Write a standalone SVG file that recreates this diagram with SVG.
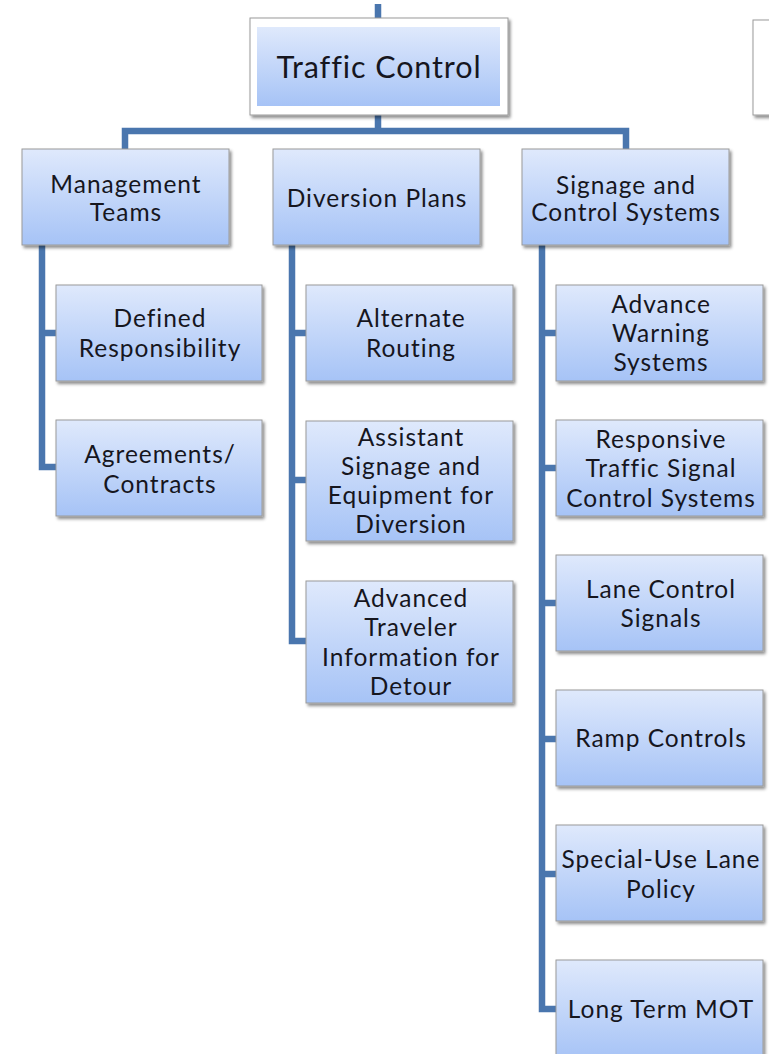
<svg xmlns="http://www.w3.org/2000/svg" width="769" height="1054" viewBox="0 0 769 1054">
<defs>
<linearGradient id="g" x1="0" y1="0" x2="0" y2="1">
<stop offset="0" stop-color="#dfe9fc"/>
<stop offset="1" stop-color="#a6c3f6"/>
</linearGradient>
<filter id="sh" x="-10%" y="-10%" width="125%" height="130%">
<feDropShadow dx="2" dy="2.5" stdDeviation="1.5" flood-color="#000" flood-opacity="0.45"/>
</filter>
<style>
.box{fill:url(#g);stroke:#9a9a9a;stroke-width:1;filter:url(#sh)}
.wbox{fill:#fff;stroke:#9a9a9a;stroke-width:1;filter:url(#sh)}
.t{font-family:Lato,"Liberation Sans",sans-serif;font-size:24.5px;letter-spacing:1px;fill:#16161e;text-anchor:middle;dominant-baseline:central}
.big{font-size:30.5px;letter-spacing:0.9px}
.c{fill:none;stroke:#4a76ae;stroke-width:6.5}
</style>
</defs>
<g id="connectors">
<path class="c" d="M378 4V131M125 150V131H626V150"/>
<path class="c" d="M42 245V467H56M42 333H56"/>
<path class="c" d="M292 245V641H306M292 333H306M292 480H306"/>
<path class="c" d="M542 245V1009H556M542 333H556M542 468H556M542 603H556M542 739H556M542 874H556"/>
</g>
<g id="traffic-control">
<rect class="wbox" x="250" y="18" width="258" height="97"/>
<rect x="257" y="27" width="243" height="79" fill="url(#g)"/>
<text class="t big" x="379" y="66">Traffic Control</text>
</g>
<g id="right-partial">
<rect class="wbox" x="753" y="20" width="30" height="95"/>
</g>
<g id="management-teams">
<rect class="box" x="22" y="149" width="207" height="96"/>
<text class="t" x="126" y="183">Management</text>
<text class="t" x="126" y="211">Teams</text>
</g>
<g id="defined-responsibility">
<rect class="box" x="56" y="285" width="206" height="96"/>
<text class="t" x="160" y="317">Defined</text>
<text class="t" x="160" y="347">Responsibility</text>
</g>
<g id="agreements-contracts">
<rect class="box" x="56" y="420" width="206" height="96"/>
<text class="t" x="160" y="453">Agreements/</text>
<text class="t" x="160" y="483">Contracts</text>
</g>
<g id="diversion-plans">
<rect class="box" x="273" y="149" width="207" height="96"/>
<text class="t" x="377" y="197">Diversion Plans</text>
</g>
<g id="alternate-routing">
<rect class="box" x="306" y="285" width="207" height="96"/>
<text class="t" x="411" y="317">Alternate</text>
<text class="t" x="411" y="347">Routing</text>
</g>
<g id="assistant-signage">
<rect class="box" x="306" y="421" width="207" height="120"/>
<text class="t" x="411" y="436">Assistant</text>
<text class="t" x="411" y="465">Signage and</text>
<text class="t" x="411" y="494">Equipment for</text>
<text class="t" x="411" y="523">Diversion</text>
</g>
<g id="advanced-traveler">
<rect class="box" x="306" y="581" width="207" height="122"/>
<text class="t" x="411" y="597">Advanced</text>
<text class="t" x="411" y="626">Traveler</text>
<text class="t" x="411" y="656">Information for</text>
<text class="t" x="411" y="685">Detour</text>
</g>
<g id="signage-control">
<rect class="box" x="522" y="149" width="207" height="96"/>
<text class="t" x="626" y="184">Signage and</text>
<text class="t" x="626" y="211">Control Systems</text>
</g>
<g id="advance-warning">
<rect class="box" x="556" y="285" width="207" height="96"/>
<text class="t" x="661" y="303">Advance</text>
<text class="t" x="661" y="332">Warning</text>
<text class="t" x="661" y="361">Systems</text>
</g>
<g id="responsive-traffic">
<rect class="box" x="556" y="420" width="207" height="96"/>
<text class="t" x="661" y="438">Responsive</text>
<text class="t" x="661" y="467">Traffic Signal</text>
<text class="t" x="661" y="497">Control Systems</text>
</g>
<g id="lane-control">
<rect class="box" x="556" y="555" width="207" height="96"/>
<text class="t" x="661" y="588">Lane Control</text>
<text class="t" x="661" y="617">Signals</text>
</g>
<g id="ramp-controls">
<rect class="box" x="556" y="690" width="207" height="96"/>
<text class="t" x="661" y="737">Ramp Controls</text>
</g>
<g id="special-use">
<rect class="box" x="556" y="825" width="207" height="96"/>
<text class="t" x="661" y="858">Special-Use Lane</text>
<text class="t" x="661" y="888">Policy</text>
</g>
<g id="long-term-mot">
<rect class="box" x="556" y="960" width="207" height="100"/>
<text class="t" x="661" y="1008">Long Term MOT</text>
</g>
</svg>
